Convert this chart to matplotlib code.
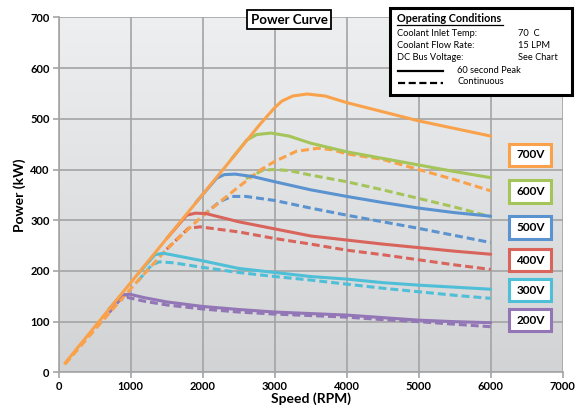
import numpy as np
import matplotlib
matplotlib.use('Agg')
import matplotlib.pyplot as plt
from matplotlib.patches import Rectangle
from matplotlib.lines import Line2D

plt.rcParams['font.family'] = ['Lato', 'DejaVu Sans']

# 60 second peak curves (speed rpm, power kW)
rpm_700 = [87, 1000, 2000, 2800, 3000, 3100, 3250, 3450, 3700, 4000, 4500, 5000, 5500, 6000]
kw_700 = [18, 177, 351, 490, 522, 535, 545, 549, 545, 532, 514, 496, 481, 466]
rpm_600 = [2400, 2611, 2750, 2950, 3200, 3500, 4000, 4500, 5000, 5500, 6000]
kw_600 = [421, 458, 469, 472, 466, 452, 435, 422, 409, 396, 384]
rpm_500 = [1900, 2194, 2300, 2450, 2700, 3000, 3500, 4000, 4500, 5000, 5500, 6000]
kw_500 = [334, 383, 390, 391, 386, 376, 360, 347, 335, 324, 315, 308]
rpm_400 = [1500, 1778, 1900, 2050, 2500, 3000, 3500, 4000, 4500, 5000, 5500, 6000]
kw_400 = [264, 310, 314, 313, 297, 283, 269, 261, 253, 246, 239, 233]
rpm_300 = [1100, 1337, 1450, 1600, 2000, 2500, 3000, 3500, 4000, 4500, 5000, 5500, 6000]
kw_300 = [194, 232, 235, 231, 220, 205, 197, 189, 184, 177, 172, 168, 164]
rpm_200 = [700, 875, 990, 1200, 1500, 2000, 2500, 3000, 3500, 4000, 4500, 5000, 5500, 6000]
kw_200 = [125, 153, 154, 147, 139, 130, 124, 119, 116, 113, 108, 103, 100, 98]

# continuous curves
rpm_700c = [87, 500, 1000, 1500, 2000, 2500, 2800, 3000, 3300, 3600, 3800, 4000, 4500, 5000, 5500, 6000]
kw_700c = [16, 84, 165, 243, 309, 366, 399, 416, 436, 442, 439, 431, 420, 400, 380, 358]
rpm_600c = [2600, 2842, 3000, 3200, 3500, 4000, 4500, 5000, 5500, 6000]
kw_600c = [382, 399, 400, 398, 389, 376, 360, 343, 326, 307]
rpm_500c = [2000, 2240, 2400, 2600, 3000, 3500, 4000, 4500, 5000, 5500, 6000]
kw_500c = [309, 337, 347, 347, 339, 324, 310, 297, 284, 270, 256]
rpm_400c = [1500, 1800, 1962, 2500, 3000, 3500, 4000, 4500, 5000, 5500, 6000]
kw_400c = [243, 284, 287, 277, 264, 253, 241, 232, 222, 212, 203]
rpm_300c = [1100, 1292, 1400, 1600, 2000, 2500, 3000, 3500, 4000, 4500, 5000, 5500, 6000]
kw_300c = [180, 212, 218, 216, 207, 197, 189, 182, 174, 166, 159, 152, 146]
rpm_200c = [700, 850, 950, 1200, 1500, 2000, 2500, 3000, 3500, 4000, 4500, 5000, 5500, 6000]
kw_200c = [118, 143, 148, 140, 133, 125, 119, 115, 112, 109, 104, 100, 95, 90]

voltages = ['700V', '600V', '500V', '400V', '300V', '200V']
colors = ['#F9A24B', '#A5C55A', '#5A93D0', '#D9645C', '#4FBFD8', '#9276B6']
peak = [(rpm_700, kw_700), (rpm_600, kw_600), (rpm_500, kw_500),
        (rpm_400, kw_400), (rpm_300, kw_300), (rpm_200, kw_200)]
cont = [(rpm_700c, kw_700c), (rpm_600c, kw_600c), (rpm_500c, kw_500c),
        (rpm_400c, kw_400c), (rpm_300c, kw_300c), (rpm_200c, kw_200c)]

fig = plt.figure(figsize=(5.75, 4.08), dpi=100)
ax = fig.add_axes([0.1021, 0.0873, 0.8765, 0.870])

# grey gradient background
grad = np.linspace(0, 1, 256).reshape(-1, 1)
cmap = matplotlib.colors.LinearSegmentedColormap.from_list('bg', ['#eeeff1', '#d2d3d5'])
ax.imshow(grad, extent=[0, 7000, 0, 700], aspect='auto', cmap=cmap, zorder=0, origin='upper')

ax.set_xlim(0, 7000)
ax.set_ylim(0, 700)
ax.set_xticks(range(0, 7001, 1000))
ax.set_yticks(range(0, 701, 100))
ax.grid(True, color='#a4a4a4', lw=1.2, zorder=1)
for s in ['top', 'right']:
    ax.spines[s].set_visible(False)
for s in ['left', 'bottom']:
    ax.spines[s].set_color('#a4a4a4')
    ax.spines[s].set_linewidth(1.2)
ax.tick_params(colors='#a4a4a4', length=4, width=1.2, labelcolor='black', labelsize=8, pad=2.5)
for lab in ax.get_xticklabels() + ax.get_yticklabels():
    lab.set_fontweight('bold')

# draw lower voltages first, 700V on top
for i in range(5, -1, -1):
    x, y = cont[i]
    ax.plot(x, y, color=colors[i], lw=2.2, dashes=(2.6, 1.3), zorder=3 + (5 - i) * 0.1,
            solid_joinstyle='round')
for i in range(5, -1, -1):
    x, y = peak[i]
    ax.plot(x, y, color=colors[i], lw=2.2, zorder=4 + (5 - i) * 0.1,
            solid_joinstyle='round', solid_capstyle='round')

ax.set_xlabel('Speed (RPM)', fontsize=10, fontweight='bold', labelpad=0)
ax.set_ylabel('Power (kW)', fontsize=10, fontweight='bold', labelpad=3)

# title box
fig.text(289 / 575, 1 - 19.5 / 408, 'Power Curve', fontsize=9.5, fontweight='bold',
         ha='center', va='center',
         bbox=dict(boxstyle='square,pad=0.25', fc='white', ec='black', lw=1.3))

# operating conditions box
W, H = 575, 408
def fx(px):
    return px / W
def fy(py):
    return 1 - py / H
fig.patches.append(Rectangle((fx(389.5), fy(95)), fx(571.5) - fx(389.5), fy(8.5) - fy(95),
                             transform=fig.transFigure, fc='white', ec='black', lw=2.2, zorder=10))
fs = 6.7
fig.text(fx(397), fy(19), 'Operating Conditions', fontsize=7.8, fontweight='bold',
         va='center', zorder=11)
fig.lines.append(Line2D([fx(397), fx(503)], [fy(25), fy(25)], transform=fig.transFigure,
                        color='black', lw=0.9, zorder=11))
rows = [('Coolant Inlet Temp:', '70  C'), ('Coolant Flow Rate:', '15 LPM'),
        ('DC Bus Voltage:', 'See Chart')]
for k, (a, b) in enumerate(rows):
    yy = 33.5 + k * 12
    fig.text(fx(397), fy(yy), a, fontsize=fs, va='center', zorder=11)
    fig.text(fx(518), fy(yy), b, fontsize=fs, va='center', zorder=11)
fig.lines.append(Line2D([fx(398), fx(443)], [fy(71), fy(71)], transform=fig.transFigure,
                        color='black', lw=1.6, zorder=11))
fig.lines.append(Line2D([fx(398), fx(443)], [fy(82.5), fy(82.5)], transform=fig.transFigure,
                        color='black', lw=1.6, dashes=(3.2, 1.6), zorder=11))
fig.text(fx(457), fy(70.5), '60 second Peak', fontsize=fs, va='center', zorder=11)
fig.text(fx(457), fy(82), 'Continuous', fontsize=fs, va='center', zorder=11)

# voltage tags
tag_y = [155, 191.5, 227.5, 260, 290, 320]
for v, c, ty in zip(voltages, colors, tag_y):
    fig.patches.append(Rectangle((fx(509.5), fy(ty + 11)), fx(42), fy(0) - fy(22.5),
                                 transform=fig.transFigure, fc='white', ec=c, lw=2.2, zorder=10))
    fig.text(fx(530.5), fy(ty), v, fontsize=8.5, fontweight='bold', ha='center', va='center',
             zorder=11)

fig.savefig('out.png', dpi=100)
